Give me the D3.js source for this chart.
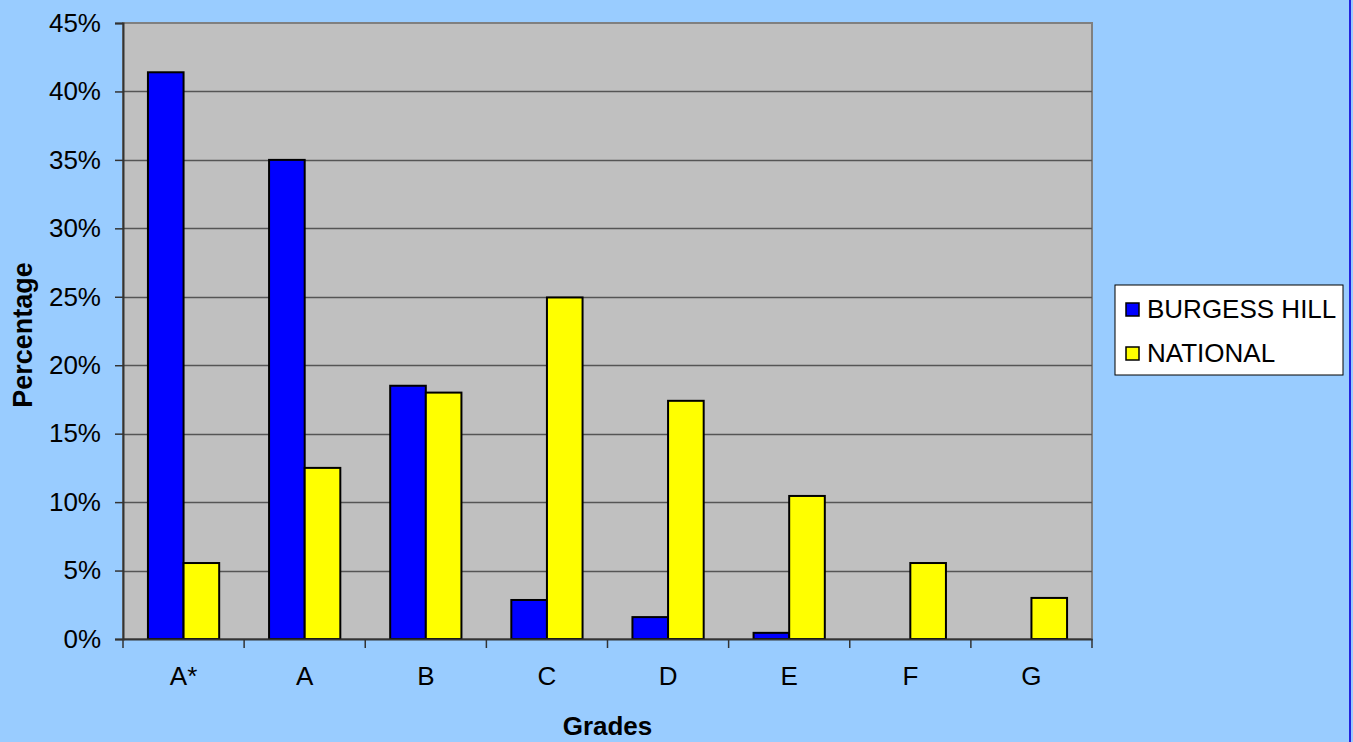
<!DOCTYPE html>
<html>
<head>
<meta charset="utf-8">
<script src="https://cdn.jsdelivr.net/npm/d3@7"></script>
<style>
  html, body { margin: 0; padding: 0; background: #99CCFF; overflow: hidden; }
  svg { display: block; font-family: "Liberation Sans", Arial, sans-serif; }
</style>
</head>
<body>
<svg width="1353" height="742"></svg>
<script>
const grades = ["A*", "A", "B", "C", "D", "E", "F", "G"];
const seriesNames = ["BURGESS HILL", "NATIONAL"];
const burgessHill = [41.4, 35.0, 18.5, 2.85, 1.6, 0.45, 0, 0];
const national = [5.55, 12.5, 18.0, 24.95, 17.4, 10.45, 5.55, 3.0];
const yTicks = [0, 5, 10, 15, 20, 25, 30, 35, 40, 45];
const colors = ["#0000FF", "#FFFF00"];

const svg = d3.select("svg");
const plotLeft = 123, plotRight = 1092, plotTop = 23, plotBottom = 639;

// background + right edge line
svg.append("rect").attr("width", 1353).attr("height", 742).attr("fill", "#99CCFF");
svg.append("rect").attr("x", 1349).attr("y", 0).attr("width", 2).attr("height", 742).attr("fill", "#2222DD");

const x = d3.scaleBand().domain(grades).range([plotLeft, plotRight]).paddingInner(0).paddingOuter(0);
const x1 = d3.scaleBand().domain(seriesNames).range([0, x.bandwidth()]).paddingInner(0).paddingOuter(0.7);
const y = d3.scaleLinear().domain([0, 45]).range([plotBottom, plotTop]);

// plot area
svg.append("rect")
    .attr("x", plotLeft).attr("y", plotTop)
    .attr("width", plotRight - plotLeft).attr("height", plotBottom - plotTop)
    .attr("fill", "#C0C0C0")
    .attr("stroke", "#808080")
    .attr("stroke-width", 2);

// gridlines
svg.append("g")
    .selectAll("line")
    .data(yTicks.filter(d => d > 0 && d < 45))
    .join("line")
    .attr("x1", plotLeft).attr("x2", plotRight)
    .attr("y1", d => Math.round(y(d)) + 0.5).attr("y2", d => Math.round(y(d)) + 0.5)
    .attr("stroke", "#555555")
    .attr("stroke-width", 1.5);

// bars
const rows = grades.map((g, i) => ({ grade: g, values: [burgessHill[i], national[i]] }));
svg.append("g")
    .selectAll("g")
    .data(rows)
    .join("g")
    .attr("transform", d => `translate(${x(d.grade)},0)`)
    .selectAll("rect")
    .data(d => d.values.map((v, j) => ({ name: seriesNames[j], value: v, color: colors[j] })).filter(d => d.value > 0))
    .join("rect")
    .attr("x", d => x1(d.name))
    .attr("y", d => y(d.value))
    .attr("width", x1.bandwidth())
    .attr("height", d => plotBottom - y(d.value))
    .attr("fill", d => d.color)
    .attr("stroke", "#000")
    .attr("stroke-width", 2);

// y axis
const yAxis = svg.append("g")
    .attr("transform", `translate(${plotLeft},0)`)
    .call(d3.axisLeft(y).tickValues(yTicks).tickFormat(d => d + "%").tickSize(8).tickPadding(14));
yAxis.select(".domain").attr("stroke", "#333").attr("stroke-width", 2);
yAxis.selectAll(".tick line").attr("stroke", "#333").attr("stroke-width", 1.5);
yAxis.selectAll("text").attr("font-size", 26).attr("fill", "#000").attr("font-family", "Liberation Sans, Arial, sans-serif");

// x axis
const xAxis = svg.append("g")
    .attr("transform", `translate(0,${plotBottom})`)
    .call(d3.axisBottom(x).tickSize(0).tickPadding(28));
xAxis.select(".domain").attr("stroke", "#333").attr("stroke-width", 2);
xAxis.selectAll("text").attr("font-size", 26).attr("fill", "#000").attr("font-family", "Liberation Sans, Arial, sans-serif");
xAxis.selectAll(".bound")
    .data(d3.range(grades.length + 1))
    .join("line")
    .attr("class", "bound")
    .attr("x1", i => plotLeft + i * x.bandwidth())
    .attr("x2", i => plotLeft + i * x.bandwidth())
    .attr("y1", 0).attr("y2", 9)
    .attr("stroke", "#333").attr("stroke-width", 1.5);

// axis titles
svg.append("text")
    .attr("x", (plotLeft + plotRight) / 2).attr("y", 735)
    .attr("text-anchor", "middle")
    .attr("font-size", 26).attr("font-weight", "bold")
    .text("Grades");
svg.append("text")
    .attr("transform", `translate(32,${(plotTop + plotBottom) / 2 + 4}) rotate(-90)`)
    .attr("text-anchor", "middle")
    .attr("font-size", 27).attr("font-weight", "bold")
    .text("Percentage");

// legend
const legend = svg.append("g").attr("transform", "translate(1115,285)");
legend.append("rect")
    .attr("width", 228).attr("height", 90)
    .attr("fill", "#FFFFFF").attr("stroke", "#000").attr("stroke-width", 1);
const items = legend.selectAll("g.item")
    .data(seriesNames)
    .join("g")
    .attr("class", "item")
    .attr("transform", (d, i) => `translate(10,${23 + i * 44})`);
items.append("rect")
    .attr("x", 1).attr("y", -5)
    .attr("width", 13).attr("height", 13)
    .attr("fill", (d, i) => colors[i])
    .attr("stroke", "#000").attr("stroke-width", 1.5);
items.append("text")
    .attr("x", 22).attr("y", 10)
    .attr("font-size", 26)
    .text(d => d);
</script>
</body>
</html>
